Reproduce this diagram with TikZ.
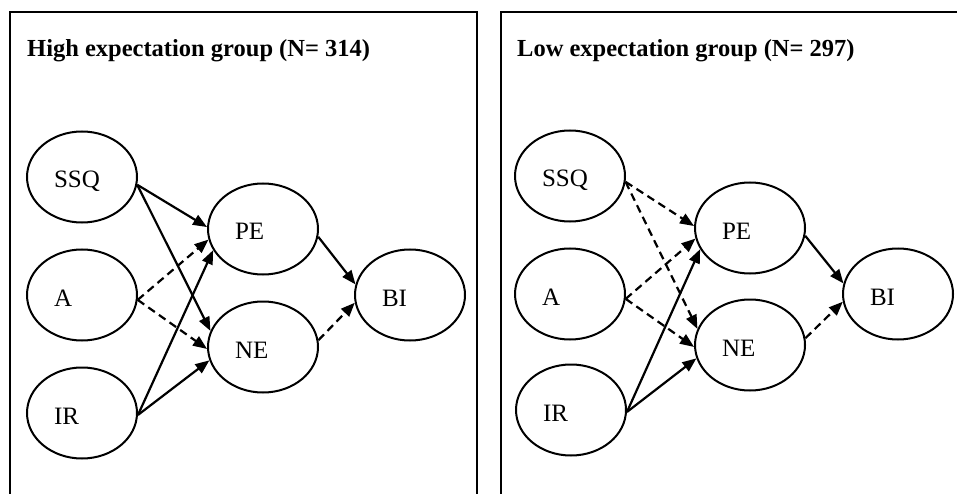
\documentclass[tikz,border=0pt]{standalone}
\usepackage{fontspec}
\setmainfont{Liberation Serif}
\usetikzlibrary{arrows.meta,shapes.geometric}
\begin{document}
\begin{tikzpicture}[x=1pt,y=-1pt,
  var/.style={draw, line width=2pt, ellipse, minimum width=110pt, minimum height=91pt,
    inner sep=0pt, text width=56pt, text height=22pt, text depth=0pt, align=left,
    font=\fontsize{25}{27}\selectfont},
  ttl/.style={anchor=base west, inner sep=0pt, font=\fontsize{24.5}{27}\selectfont\bfseries},
  frame/.style={line width=2.2pt},
  pathline/.style={line width=2.2pt, -{Triangle[length=14pt,width=11pt]}},
  ns/.style={pathline, dash pattern=on 8pt off 5pt}]
\useasboundingbox (0,0) rectangle (957,494);
\clip (0,0) rectangle (957,494);
% frames
\draw[frame] (10,540) -- (10,12) -- (477,12) -- (477,540);
\draw[frame] (501,540) -- (501,12) -- (970,12);
% left panel
\node[ttl] (t1) at (27,57) {High expectation group (N= 314)};
\node[var] (SSQ1) at (82,177) {SSQ};
\node[var] (A1) at (82,295) {A};
\node[var] (IR1) at (82,413) {IR};
\node[var] (PE1) at (263,229) {PE};
\node[var] (NE1) at (263,347) {NE};
\node[var] (BI1) at (410,295) {BI};
\draw[pathline] (SSQ1.-8) -- (PE1.178);
\draw[pathline] (SSQ1.-8) -- (NE1.163);
\draw[ns] (A1.-5) -- (PE1.191);
\draw[ns] (A1.-5) -- (NE1.182);
\draw[pathline] (IR1.-2) -- (PE1.203);
\draw[pathline] (IR1.-2) -- (NE1.194);
\draw[pathline] (PE1.-8) -- (BI1.169);
\draw[ns] (NE1.7) -- (BI1.188);
% right panel
\node[ttl] (t2) at (517,57) {Low expectation group (N= 297)};
\node[var] (SSQ2) at (570,176) {SSQ};
\node[var] (A2) at (570,294) {A};
\node[var] (IR2) at (571,410) {IR};
\node[var] (PE2) at (750,228) {PE};
\node[var] (NE2) at (750,345) {NE};
\node[var] (BI2) at (898,294) {BI};
\draw[ns] (SSQ2.-6) -- (PE2.178);
\draw[ns] (SSQ2.-6) -- (NE2.163);
\draw[ns] (A2.-5) -- (PE2.191);
\draw[ns] (A2.-5) -- (NE2.182);
\draw[pathline] (IR2.-2) -- (PE2.203);
\draw[pathline] (IR2.-2) -- (NE2.194);
\draw[pathline] (PE2.-8) -- (BI2.169);
\draw[ns] (NE2.7) -- (BI2.188);
\end{tikzpicture}
\end{document}
